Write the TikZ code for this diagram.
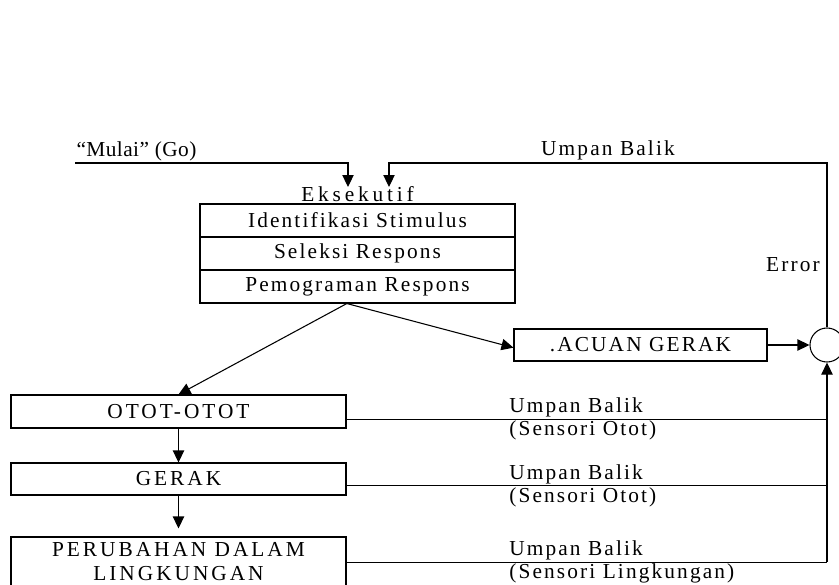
\documentclass[tikz,border=0pt]{standalone}
\usepackage{fontspec}
\setmainfont{Liberation Serif}[LetterSpace=10]
\usetikzlibrary{arrows.meta}

\tikzset{
  kotak/.style={draw, line width=0.8pt, inner sep=0pt, align=center},
  lebar/.style={font=\fontsize{16}{18}\selectfont\addfontfeature{LetterSpace=14}},
  panah/.style={-{Stealth[length=9pt,width=8.5pt,inset=0pt]}, line width=0.8pt},
  garis/.style={line width=0.7pt},
  balik/.style={inner sep=1pt, align=left}
}

\begin{document}
\begin{tikzpicture}[x=0.75pt,y=-0.75pt,font=\fontsize{16}{18}\selectfont]
  \clip (0,0) rectangle (839,585);

  % eksekutif
  \node[kotak,minimum width=236.25pt,minimum height=24.75pt] (ident) at (357.5,220.5) {Identifikasi Stimulus};
  \node[kotak,minimum width=236.25pt,minimum height=24.75pt] (seleksi) at (357.5,253.5) {Seleksi Respons};
  \node[kotak,minimum width=236.25pt,minimum height=24.75pt] (program) at (357.5,286.5) {Pemograman Respons};
  \node[anchor=south, inner sep=1pt, font=\fontsize{16}{18}\selectfont\addfontfeature{LetterSpace=18}] (eks) at (ident.north) {Eksekutif};

  \node[kotak,minimum width=189.75pt,minimum height=24pt] (acuan) at (640.5,345) {.ACUAN GERAK};
  \node[draw, circle, line width=0.8pt, minimum size=25.5pt, inner sep=0pt] (sum) at (827,345) {};
  \node (err) at (793,265) {Error};

  \node[kotak,lebar,minimum width=251.25pt,minimum height=24.75pt] (otot) at (178.5,411.5) {OTOT-OTOT};
  \node[kotak,lebar,minimum width=251.25pt,minimum height=24pt] (gerak) at (178.5,479) {GERAK};
  \node[kotak,lebar,minimum width=251.25pt,minimum height=37.5pt] (ubah) at (178.5,562) {PERUBAHAN DALAM\\LINGKUNGAN};

  % masukan atas
  \coordinate (mulai) at (75,163);
  \coordinate (masuk1) at (348,187);
  \coordinate (masuk2) at (389,187);
  \coordinate (atas) at (827,163);
  \node[anchor=south west, inner sep=1pt, font=\fontsize{16}{18}\selectfont\addfontfeature{LetterSpace=2}] (go) at (mulai) {``Mulai'' (Go)};
  \draw[panah] (mulai) -| (masuk1);
  \draw[panah] (sum.north) -- (atas) -| node[pos=0.25, above, inner sep=2pt] (ubtop) {Umpan Balik} (masuk2);

  % keluaran program
  \coordinate (cabang) at ([xshift=-8pt]program.south);
  \draw[panah] (cabang) -- (otot.north);
  \draw[panah] (cabang) -- ([yshift=-2pt]acuan.west);
  \draw[panah] (acuan) -- (sum);
  \draw[panah] (otot) -- (gerak);
  \draw[panah, shorten >=6pt] (gerak) -- (ubah);

  % umpan balik sensori
  \draw[garis] ([yshift=-5.6pt]otot.east) -- ([yshift=-5.6pt]otot.east -| sum)
    node[pos=0.335, balik, anchor=south west] (ub1) {Umpan Balik}
    node[pos=0.335, balik, anchor=north west] (so1) {(Sensori Otot)};
  \draw[garis] ([yshift=-5.2pt]gerak.east) -- ([yshift=-5.2pt]gerak.east -| sum)
    node[pos=0.335, balik, anchor=south west] (ub2) {Umpan Balik}
    node[pos=0.335, balik, anchor=north west] (so2) {(Sensori Otot)};
  \draw[garis] (ubah.east) -- (ubah.east -| sum)
    node[pos=0.335, balik, anchor=south west] (ub3) {Umpan Balik}
    node[pos=0.335, balik, anchor=north west] (sl3) {(Sensori Lingkungan)};
  \draw[panah] (ubah.east -| sum) -- (sum.south);
\end{tikzpicture}
\end{document}
